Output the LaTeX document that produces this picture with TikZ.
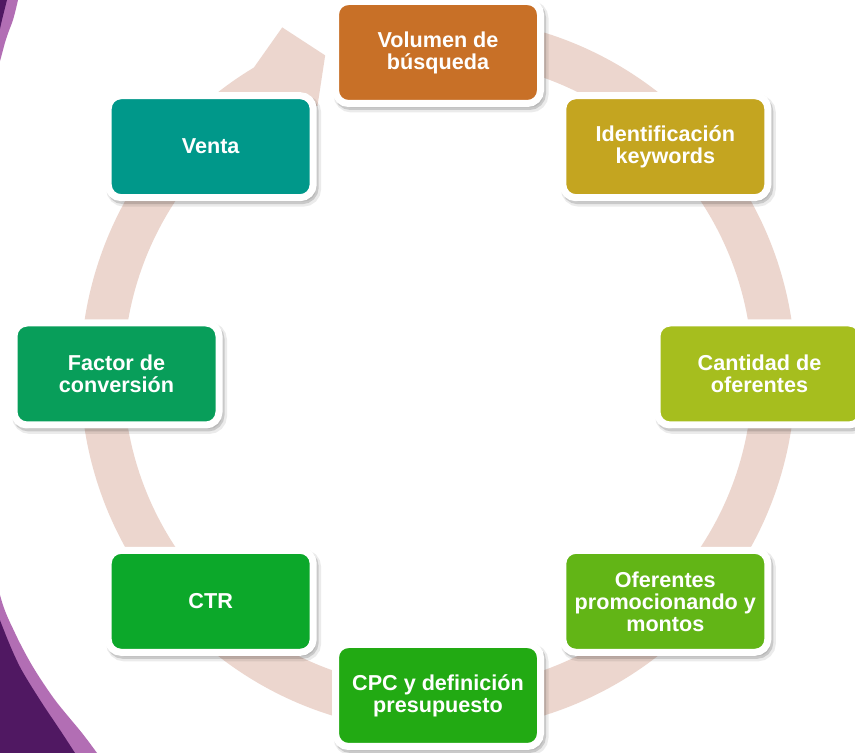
\documentclass[tikz,border=0pt]{standalone}
\usepackage{fontspec}
\setmainfont{Liberation Sans}
\usetikzlibrary{calc}
\definecolor{ringc}{HTML}{ECD6CE}
\definecolor{lpurple}{HTML}{B26EB4}
\definecolor{dpurple}{HTML}{501862}
\definecolor{cA}{HTML}{C87027}
\definecolor{cB}{HTML}{C4A520}
\definecolor{cC}{HTML}{A6BE1E}
\definecolor{cD}{HTML}{62B516}
\definecolor{cE}{HTML}{22AA13}
\definecolor{cF}{HTML}{0CA82A}
\definecolor{cG}{HTML}{089E5A}
\definecolor{cH}{HTML}{00988A}
\begin{document}
\begin{tikzpicture}[x=1pt,y=1pt,
  boxst/.style={rounded corners=13pt, draw=white, line width=7pt,
    minimum width=205pt, minimum height=102pt, inner sep=0pt,
    text=white, align=center,
    font=\bfseries\fontsize{21.6}{22}\selectfont,
    preaction={draw=black, fill=black, opacity=0.08, line width=10pt,
      transform canvas={xshift=3pt, yshift=-4pt}},
    preaction={draw=black, fill=black, opacity=0.14, line width=7pt,
      transform canvas={xshift=2pt, yshift=-3pt}}},
  ringst/.style={draw=ringc, line width=43pt},
  headst/.style={fill=ringc}
]
\useasboundingbox (0,0) rectangle (855,753);
\clip (0,0) rectangle (855,753);
\fill[white] (0,0) rectangle (855,753);
% purple decoration on the left
\fill[lpurple] plot[smooth] coordinates {(18,753) (13,733) (3,703) (-20,603) (-33,423) (-20,253) (0,158) (15,120) (33,86) (55,53) (82,20) (97,0)} -- (-100,0) -- (-100,753) -- cycle;
\fill[dpurple] plot[smooth] coordinates {(7,753) (2,733) (-5,703) (-30,603) (-45,423) (-30,253) (-8,158) (5,120) (20,86) (40,53) (62,20) (75,0)} -- (-100,0) -- (-100,753) -- cycle;
% ring with arrowhead
\coordinate (C) at (438,379);
\draw[ringst] ($(C)+(85:336)$) arc[start angle=85, end angle=-245.5, radius=336];
\fill[headst] ($(C)+(121:357.5)$) -- ($(C)+(114.2:380)$) -- ($(C)+(109.5:338)$) -- ($(C)+(114.2:294)$) -- ($(C)+(121:314.5)$) -- cycle;
% boxes
\node[boxst, fill=cA] (vol) at ($(C)+(90:321.5)$) {Volumen de\\búsqueda};
\node[boxst, fill=cB] (ide) at ($(C)+(45:321.5)$) {Identificación\\keywords};
\node[boxst, fill=cC] (can) at ($(C)+(0:321.5)$) {Cantidad de\\oferentes};
\node[boxst, fill=cD] (ofe) at ($(C)+(-45:321.5)$) {Oferentes\\promocionando y\\montos};
\node[boxst, fill=cE] (cpc) at ($(C)+(-90:321.5)$) {CPC y definición\\presupuesto};
\node[boxst, fill=cF] (ctr) at ($(C)+(-135:321.5)$) {CTR};
\node[boxst, fill=cG] (fac) at ($(C)+(180:321.5)$) {Factor de\\conversión};
\node[boxst, fill=cH] (ven) at ($(C)+(135:321.5)$) {Venta};
\end{tikzpicture}
\end{document}
